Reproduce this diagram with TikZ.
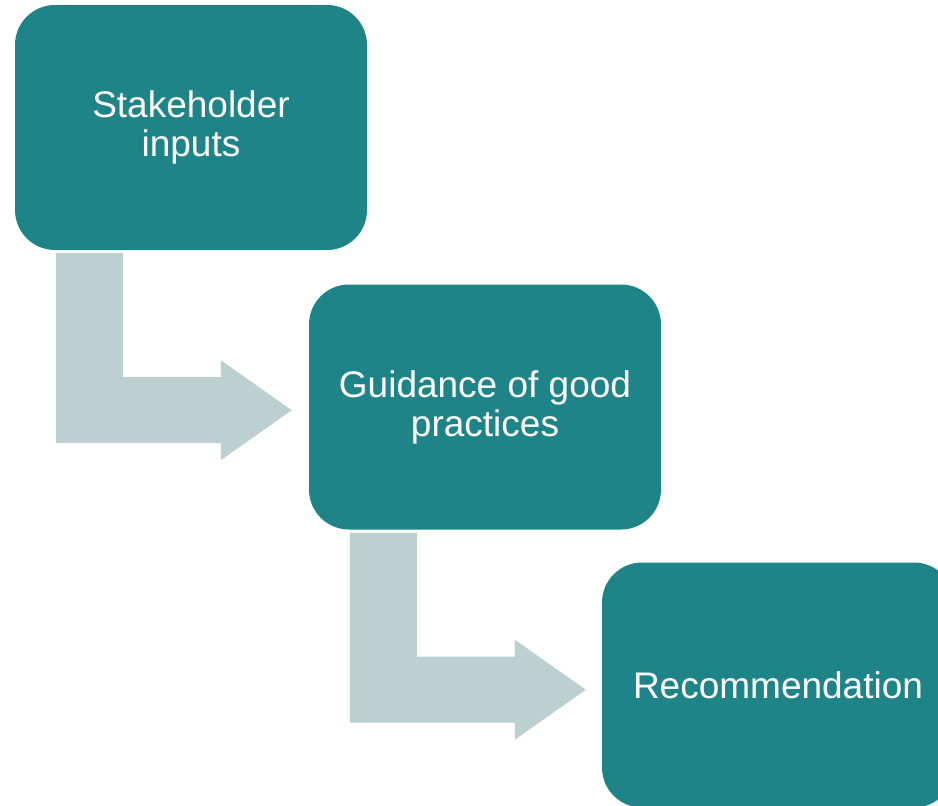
\documentclass[tikz,border=0pt]{standalone}
\usepackage{fontspec}
\setmainfont{Liberation Sans}
\usetikzlibrary{calc}
\definecolor{boxteal}{HTML}{1F8488}
\definecolor{arrowgray}{HTML}{BCCFD1}
\tikzset{
    stepbox/.style={rectangle, rounded corners=40pt, fill=boxteal, text=white,
        minimum width=352pt, minimum height=245pt, align=center,
        font=\fontsize{37}{39}\selectfont},
    bentarrow/.style={fill=arrowgray}
}

\begin{document}
\begin{tikzpicture}[x=1pt, y=-1pt]
        \useasboundingbox (0,0) rectangle (938,806);
        \node[stepbox] (inputs) at (191,127.5) {Stakeholder\\inputs};
        \node[stepbox] (guidance) at (485,407) {Guidance of good\\practices};
        \node[stepbox] (recommend) at (778,685) {Recommendation};

        % bent arrows below each box
        \foreach \from in {inputs, guidance}
            \fill[bentarrow] ($(\from.south west)+(41,3)$) -- ($(\from.south west)+(108,3)$)
                -- ($(\from.south west)+(108,127)$) -- ($(\from.south west)+(206,127)$)
                -- ($(\from.south west)+(206,110)$) -- ($(\from.south west)+(277,160)$)
                -- ($(\from.south west)+(206,210)$) -- ($(\from.south west)+(206,193)$)
                -- ($(\from.south west)+(41,193)$) -- cycle;
    \end{tikzpicture}
\end{document}
